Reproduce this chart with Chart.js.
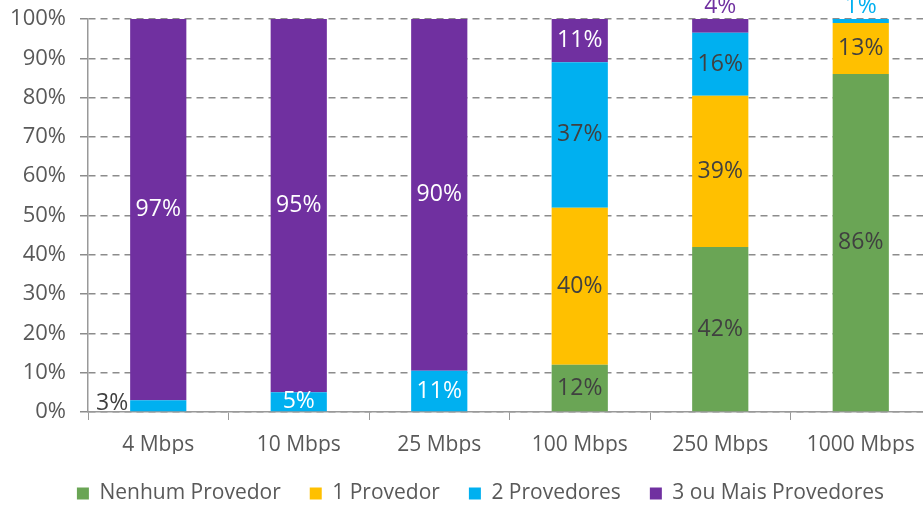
<!DOCTYPE html>
<html>
<head>
<meta charset="utf-8">
<script src="https://cdn.jsdelivr.net/npm/chart.js@4"></script>
<style>
  html, body { margin: 0; padding: 0; background: #fff; overflow: hidden; }
  #wrap { width: 935px; height: 505px; }
</style>
</head>
<body>
<div id="wrap"><canvas id="myChart"></canvas></div>
<script>
// categorias (velocidade) e séries
const categorias = ['4 Mbps', '10 Mbps', '25 Mbps', '100 Mbps', '250 Mbps', '1000 Mbps'];
const nenhum   = [0, 0, 0, 12, 42, 86];
const umProv   = [0, 0, 0, 40, 38.5, 13];
const doisProv = [3, 5, 10.5, 37, 16, 1];
const tresMais = [97, 95, 89.5, 11, 3.5, 0];
const yTicks   = [0, 10, 20, 30, 40, 50, 60, 70, 80, 90, 100];

const cinza = '#595959';
const escuro = '#404040';
const fonte = '"Open Sans", "Noto Sans", sans-serif';

// cor do rótulo em cada segmento
const corRotulos = [
  [escuro, escuro, escuro, escuro, escuro, escuro],
  [escuro, escuro, escuro, escuro, escuro, escuro],
  [escuro, '#fff', '#fff', escuro, escuro, escuro],
  ['#fff', '#fff', '#fff', '#fff', '#fff', '#fff']
];

// desenha os valores (%) dentro / fora das barras
const rotulos = {
  id: 'rotulos',
  afterDatasetsDraw(chart) {
    const ctx = chart.ctx;
    ctx.save();
    ctx.font = '23px ' + fonte;
    ctx.textBaseline = 'middle';
    chart.data.datasets.forEach((ds, di) => {
      const meta = chart.getDatasetMeta(di);
      meta.data.forEach((bar, i) => {
        const v = ds.data[i];
        if (!v) return;
        const txt = Math.round(v) + '%';
        let x = bar.x;
        let y = (bar.y + bar.base) / 2;
        let cor = corRotulos[di][i];
        ctx.textAlign = 'center';
        if (v < 5) {
          const topo = chart.data.datasets.slice(di + 1).every(d => !d.data[i]);
          if (topo) {
            y = bar.y - 13;
            cor = ds.backgroundColor;
          } else {
            ctx.textAlign = 'right';
            x = bar.x - bar.width / 2 - 2;
            y = y - 2;
          }
        }
        ctx.fillStyle = cor;
        ctx.fillText(txt, x, y);
      });
    });
    ctx.restore();
  }
};

// altura fixa da legenda (o padding horizontal grande aumentava a altura),
// um pequeno deslocamento para a direita e o topo da área do gráfico
const ajusteLayout = {
  id: 'ajusteLayout',
  beforeLayout(chart) {
    const leg = chart.legend;
    if (!leg || leg._fitAjustado) return;
    const fitOrig = leg.fit;
    leg.fit = function () { fitOrig.call(this); this.height = 51; };
    leg._fitAjustado = true;
  },
  afterLayout(chart) {
    const leg = chart.legend;
    if (leg) {
      leg.left += 15;
      leg.right += 15;
    }
    const y = chart.scales.y;
    const topo = 19;
    y.top = topo;
    y.height = y.bottom - topo;
    y.configure();
    chart.chartArea.top = topo;
    chart.chartArea.height = chart.chartArea.bottom - topo;
  }
};

const ctx = document.getElementById('myChart').getContext('2d');
new Chart(ctx, {
  type: 'bar',
  data: {
    labels: categorias,
    datasets: [
      { label: 'Nenhum Provedor', data: nenhum, backgroundColor: '#6aa555' },
      { label: '1 Provedor', data: umProv, backgroundColor: '#ffc000' },
      { label: '2 Provedores', data: doisProv, backgroundColor: '#00b0f0' },
      { label: '3 ou Mais Provedores', data: tresMais, backgroundColor: '#7030a0' }
    ]
  },
  options: {
    responsive: true,
    maintainAspectRatio: false,
    animation: false,
    layout: { padding: { left: 0, right: 4, top: 4, bottom: 0 } },
    datasets: { bar: { categoryPercentage: 1, barPercentage: 0.4 } },
    scales: {
      x: {
        stacked: true,
        afterFit(s) { s.height = 42; },
        grid: { drawOnChartArea: false, drawTicks: true, tickLength: 8, color: '#999' },
        border: { display: true, color: '#999', width: 1.5 },
        ticks: { color: cinza, font: { family: fonte, size: 21 }, padding: 12 }
      },
      y: {
        stacked: true,
        min: 0,
        max: 100,
        afterFit(s) { s.width = 88; },
        afterBuildTicks(axis) { axis.ticks = yTicks.map(v => ({ value: v })); },
        grid: { color: '#8c8c8c', lineWidth: 1.5, tickLength: 8, tickBorderDash: [] },
        border: { display: true, color: '#999', width: 1.5, dash: [7, 5] },
        ticks: { color: cinza, font: { family: fonte, size: 22 }, padding: 14, callback: v => v + '%' }
      }
    },
    plugins: {
      legend: {
        position: 'bottom',
        labels: { color: cinza, font: { family: fonte, size: 21 }, boxWidth: 12, boxHeight: 12, padding: 29 }
      },
      tooltip: { enabled: false }
    }
  },
  plugins: [rotulos, ajusteLayout]
});
</script>
</body>
</html>
